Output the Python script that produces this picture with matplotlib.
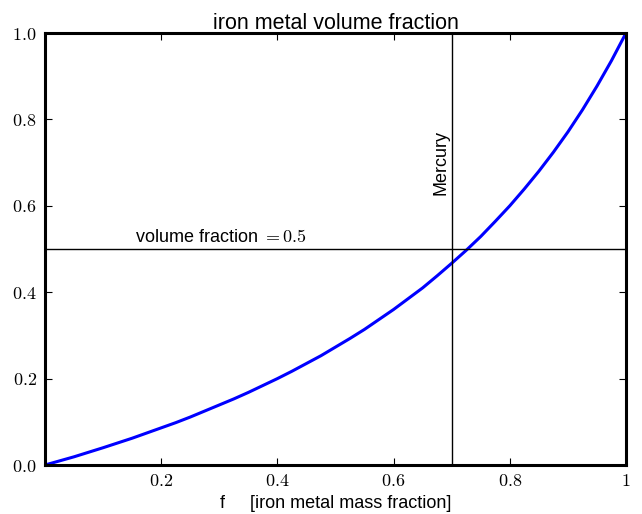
import matplotlib
matplotlib.use("Agg")
import matplotlib.pyplot as plt
from matplotlib.ticker import FuncFormatter

plt.rcParams['font.family'] = ['Liberation Sans', 'DejaVu Sans']
plt.rcParams['mathtext.fontset'] = 'cm'

# values
mass_frac = [0.0, 0.025, 0.05, 0.075, 0.1, 0.125, 0.15, 0.175, 0.2, 0.225,
             0.25, 0.275, 0.3, 0.325, 0.35, 0.375, 0.4, 0.425, 0.45, 0.475,
             0.5, 0.525, 0.55, 0.575, 0.6, 0.625, 0.65, 0.675, 0.7, 0.725,
             0.75, 0.775, 0.8, 0.825, 0.85, 0.875, 0.9, 0.925, 0.95, 0.975, 1.0]
vol_frac = [0.0, 0.0095, 0.019, 0.0295, 0.040, 0.051, 0.062, 0.074, 0.086, 0.098,
            0.111, 0.125, 0.139, 0.153, 0.168, 0.184, 0.200, 0.217, 0.235, 0.253,
            0.273, 0.293, 0.314, 0.337, 0.360, 0.385, 0.410, 0.438, 0.467, 0.497,
            0.529, 0.564, 0.600, 0.639, 0.680, 0.724, 0.771, 0.822, 0.877, 0.936, 1.0]
mercury_f = 0.7
half_vol = 0.5

fig = plt.figure(figsize=(6.42, 5.14), dpi=100)
ax = fig.add_axes([45/642, 49/514, 581/642, 432/514])

ax.plot(mass_frac, vol_frac, color='blue', lw=2.2)
ax.axvline(mercury_f, color='black', lw=1)
ax.axhline(half_vol, color='black', lw=1)
ax.text(mercury_f - 0.004, 0.625, 'Mercury', rotation=90, ha='right', va='bottom', fontsize=13)
ax.text(0.155, 0.508, 'volume fraction $= 0.5$', ha='left', va='bottom', fontsize=13)

ax.set_xlim(0, 1)
ax.set_ylim(0, 1)
ax.set_xticks([0.2, 0.4, 0.6, 0.8, 1.0])
ax.set_yticks([0.0, 0.2, 0.4, 0.6, 0.8, 1.0])
ax.xaxis.set_major_formatter(FuncFormatter(lambda v, p: '$1$' if v == 1 else '$%.1f$' % v))
ax.yaxis.set_major_formatter(FuncFormatter(lambda v, p: '$%.1f$' % v))
ax.tick_params(direction='in', top=True, right=True, length=5, width=0.8, labelsize=13, pad=6)
for s in ax.spines.values():
    s.set_linewidth(2.2)

ax.set_title('iron metal volume fraction', fontsize=15.5, pad=3)
ax.set_xlabel('f     [iron metal mass fraction]', fontsize=13, labelpad=3)

fig.savefig('out.png', dpi=100)
